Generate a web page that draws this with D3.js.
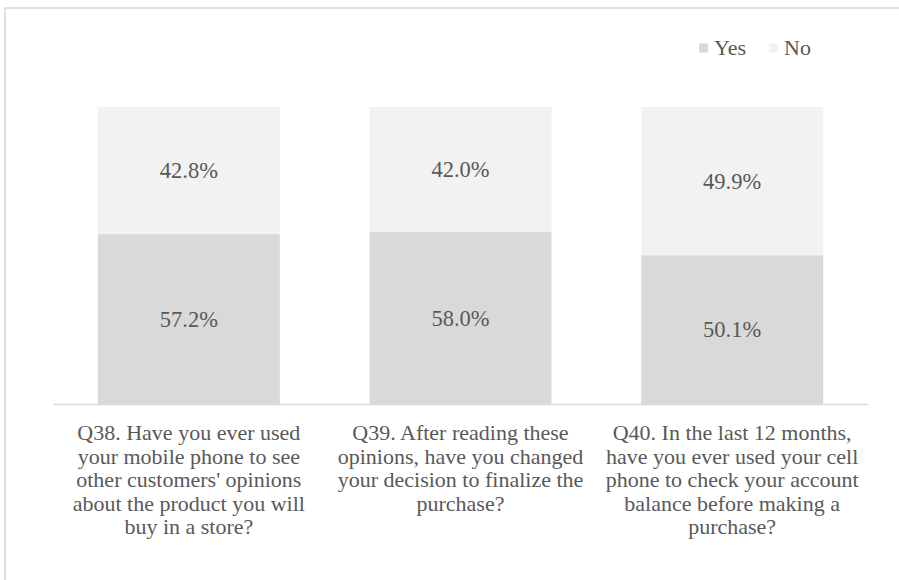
<!DOCTYPE html>
<html>
<head>
<meta charset="utf-8">
<script src="https://cdn.jsdelivr.net/npm/d3@7/dist/d3.min.js"></script>
<style>
  html, body { margin: 0; padding: 0; background: #fff; }
  svg { display: block; }
  text { font-family: "Liberation Serif", "Times New Roman", serif; fill: #595959; }
</style>
</head>
<body>
<svg id="chart" width="899" height="580"></svg>
<script>
// Survey questions (each label pre-wrapped into lines)
const questions = ["Q38", "Q39", "Q40"];
const questionLines = [
  ["Q38. Have you ever used", "your mobile phone to see", "other customers' opinions", "about the product you will", "buy in a store?"],
  ["Q39. After reading these", "opinions, have you changed", "your decision to finalize the", "purchase?"],
  ["Q40. In the last 12 months,", "have you ever used your cell", "phone to check your account", "balance before making a", "purchase?"]
];
const yesValues = [57.2, 58.0, 50.1];
const noValues = [42.8, 42.0, 49.9];
const seriesNames = ["Yes", "No"];
const seriesColors = ["#d9d9d9", "#f2f2f2"];

const svg = d3.select("#chart");
const W = 899, H = 580;

// outer frame (top and left edges visible)
svg.append("line").attr("x1", 5).attr("x2", W).attr("y1", 8).attr("y2", 8)
  .attr("stroke", "#d6d6d6").attr("stroke-width", 1.5);
svg.append("line").attr("x1", 5).attr("x2", 5).attr("y1", 8).attr("y2", H)
  .attr("stroke", "#d6d6d6").attr("stroke-width", 1.5);

const plot = { left: 53, right: 868, top: 107, bottom: 404 };

const x = d3.scaleBand().domain(questions).range([plot.left, plot.right])
  .paddingInner(0.33).paddingOuter(0.165);
const y = d3.scaleLinear().domain([0, 100]).range([plot.bottom, plot.top]);

const rows = questions.map((q, i) => ({ q, Yes: yesValues[i], No: noValues[i] }));
const stacked = d3.stack().keys(seriesNames)(rows);
const color = d3.scaleOrdinal().domain(seriesNames).range(seriesColors);

const layers = svg.append("g").selectAll("g").data(stacked).join("g")
  .attr("fill", d => color(d.key));

layers.selectAll("rect").data(d => d).join("rect")
  .attr("x", d => x(d.data.q))
  .attr("width", x.bandwidth())
  .attr("y", d => y(d[1]))
  .attr("height", d => y(d[0]) - y(d[1]));

// value labels centred in each segment
layers.selectAll("text").data(d => d.map(v => ({ v, key: d.key }))).join("text")
  .attr("x", d => x(d.v.data.q) + x.bandwidth() / 2)
  .attr("y", d => (y(d.v[0]) + y(d.v[1])) / 2)
  .attr("dy", "0.35em")
  .attr("text-anchor", "middle")
  .attr("font-size", 22.5)
  .text(d => d.v.data[d.key].toFixed(1) + "%");

// category axis
const axis = svg.append("g").attr("transform", `translate(0,${plot.bottom})`)
  .call(d3.axisBottom(x).tickSize(0).tickFormat(""));
axis.select(".domain").attr("stroke", "#d9d9d9").attr("stroke-width", 1.5);

const labels = svg.append("g").selectAll("text").data(questions).join("text")
  .attr("text-anchor", "middle")
  .attr("font-size", 22)
  .attr("x", d => x(d) + x.bandwidth() / 2)
  .attr("y", 440);
labels.selectAll("tspan").data((d, i) => questionLines[i]).join("tspan")
  .attr("x", function () { return d3.select(this.parentNode).attr("x"); })
  .attr("dy", (d, i) => i === 0 ? 0 : 23.5)
  .text(d => d);

// legend
const legendX = [699, 769];
const legend = svg.append("g").selectAll("g").data(seriesNames).join("g")
  .attr("transform", (d, i) => `translate(${legendX[i]},48)`);
legend.append("rect").attr("x", 0).attr("y", -4.5).attr("width", 9).attr("height", 9)
  .attr("fill", d => color(d));
legend.append("text").attr("x", 15).attr("y", 0).attr("dy", "0.33em")
  .attr("font-size", 22).text(d => d);
</script>
</body>
</html>
